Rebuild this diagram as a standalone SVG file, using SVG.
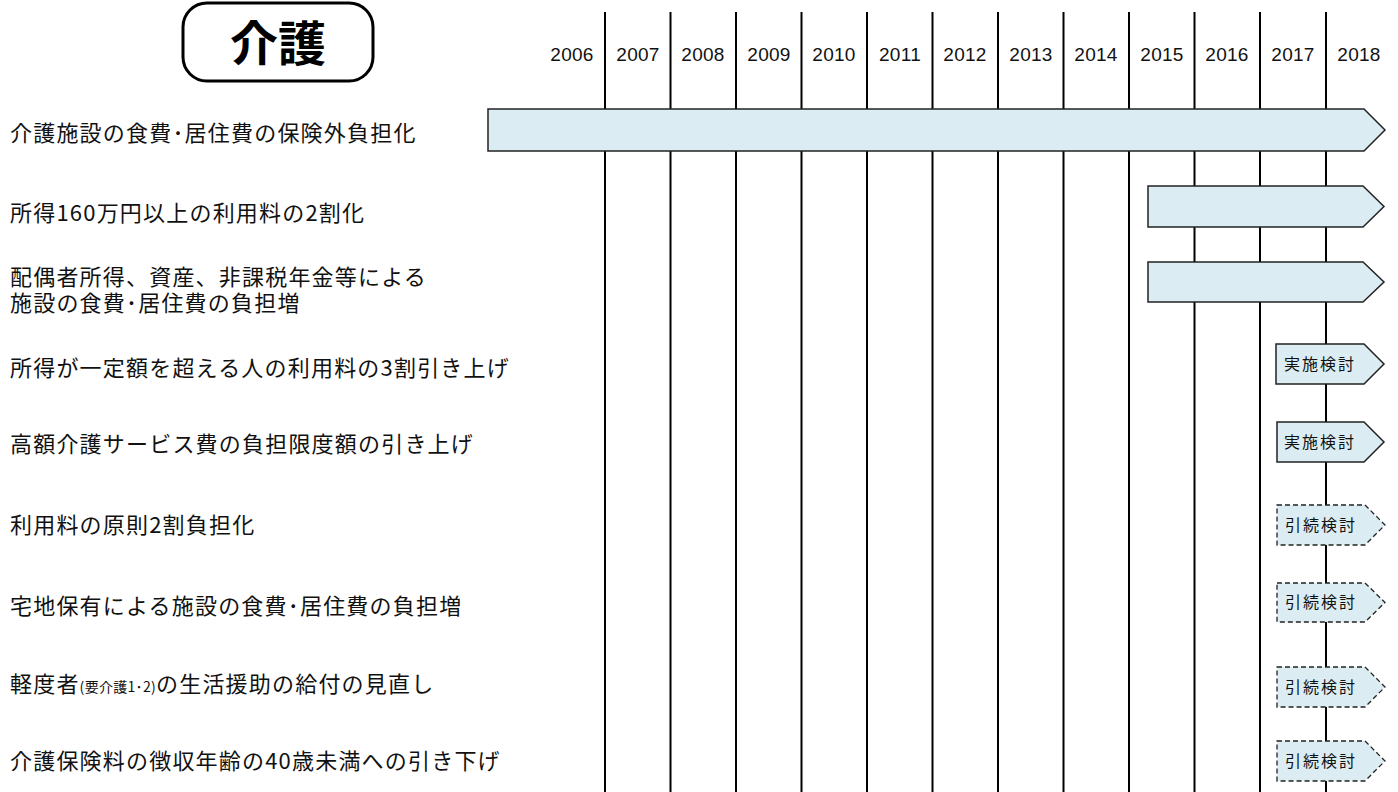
<svg xmlns="http://www.w3.org/2000/svg" width="1398" height="792" viewBox="0 0 1398 792">
<style>
.yr{font-family:"Liberation Sans","Noto Sans",sans-serif;font-size:19px;fill:#111;text-anchor:middle;letter-spacing:0.3px}
.lbl{font-family:"Noto Sans CJK JP","Noto Sans",sans-serif;font-size:22px;fill:#111;letter-spacing:1.2px}
.sm{font-size:14px;letter-spacing:0.3px}
.bx{font-family:"Noto Sans CJK JP",sans-serif;font-size:16px;fill:#111;letter-spacing:2px}
.bar{fill:#dbedf3;stroke:#222;stroke-width:1.5}
.dash{fill:#dbedf3;stroke:#222;stroke-width:1.3;stroke-dasharray:5 3}
.vl{stroke:#000;stroke-width:2}
</style>
<rect width="1398" height="792" fill="#fff"/>
<g id="title">
<rect x="183" y="3" width="190" height="78" rx="24" fill="#fff" stroke="#000" stroke-width="3"/>
<text x="278" y="61" font-family="Noto Sans CJK JP,sans-serif" font-size="48" font-weight="bold" text-anchor="middle" fill="#000">介護</text>
</g>
<g id="connectors">
<line class="vl" x1="605" y1="12" x2="605" y2="792"/>
<line class="vl" x1="670.5" y1="12" x2="670.5" y2="792"/>
<line class="vl" x1="736" y1="12" x2="736" y2="792"/>
<line class="vl" x1="801.5" y1="12" x2="801.5" y2="792"/>
<line class="vl" x1="867" y1="12" x2="867" y2="792"/>
<line class="vl" x1="932.5" y1="12" x2="932.5" y2="792"/>
<line class="vl" x1="998" y1="12" x2="998" y2="792"/>
<line class="vl" x1="1063.5" y1="12" x2="1063.5" y2="792"/>
<line class="vl" x1="1129" y1="12" x2="1129" y2="792"/>
<line class="vl" x1="1194.5" y1="12" x2="1194.5" y2="792"/>
<line class="vl" x1="1260" y1="12" x2="1260" y2="792"/>
<line class="vl" x1="1326" y1="12" x2="1326" y2="792"/>
</g>
<g id="years">
<text class="yr" x="572" y="61">2006</text>
<text class="yr" x="638" y="61">2007</text>
<text class="yr" x="703" y="61">2008</text>
<text class="yr" x="769" y="61">2009</text>
<text class="yr" x="834" y="61">2010</text>
<text class="yr" x="900" y="61">2011</text>
<text class="yr" x="965" y="61">2012</text>
<text class="yr" x="1031" y="61">2013</text>
<text class="yr" x="1096" y="61">2014</text>
<text class="yr" x="1162" y="61">2015</text>
<text class="yr" x="1227" y="61">2016</text>
<text class="yr" x="1293" y="61">2017</text>
<text class="yr" x="1359" y="61">2018</text>
</g>
<g id="labels">
<text class="lbl" x="10" y="141">介護施設の食費･居住費の保険外負担化</text>
<text class="lbl" x="10" y="221">所得160万円以上の利用料の2割化</text>
<text class="lbl"><tspan x="10" y="285">配偶者所得、資産、非課税年金等による</tspan><tspan x="10" y="311">施設の食費･居住費の負担増</tspan></text>
<text class="lbl" x="10" y="376">所得が一定額を超える人の利用料の3割引き上げ</text>
<text class="lbl" x="10" y="452">高額介護サービス費の負担限度額の引き上げ</text>
<text class="lbl" x="10" y="533">利用料の原則2割負担化</text>
<text class="lbl" x="10" y="614">宅地保有による施設の食費･居住費の負担増</text>
<text class="lbl" x="10" y="692">軽度者<tspan class="sm">(要介護1･2)</tspan>の生活援助の給付の見直し</text>
<text class="lbl" x="10" y="769">介護保険料の徴収年齢の40歳未満への引き下げ</text>
</g>
<g id="bar1"><polygon class="bar" points="488,109 1364,109 1385,130 1364,151 488,151"/></g>
<g id="bar2"><polygon class="bar" points="1148,186 1363,186 1384,206.5 1363,227 1148,227"/></g>
<g id="bar3"><polygon class="bar" points="1148,262 1363,262 1384,282 1363,302 1148,302"/></g>
<g id="box4"><polygon class="bar" points="1276,344 1364,344 1384,364 1364,384 1276,384"/><text class="bx" x="1284" y="370">実施検討</text></g>
<g id="box5"><polygon class="bar" points="1277,422 1364,422 1384,442 1364,462 1277,462"/><text class="bx" x="1284" y="448">実施検討</text></g>
<g id="box6"><polygon class="dash" points="1277,505 1365,505 1385,525 1365,545 1277,545"/><text class="bx" x="1285" y="531">引続検討</text></g>
<g id="box7"><polygon class="dash" points="1277,583 1365,583 1385,602.5 1365,622 1277,622"/><text class="bx" x="1285" y="608">引続検討</text></g>
<g id="box8"><polygon class="dash" points="1277,667 1365,667 1385,687 1365,707 1277,707"/><text class="bx" x="1285" y="693">引続検討</text></g>
<g id="box9"><polygon class="dash" points="1277,741 1365,741 1385,761 1365,781 1277,781"/><text class="bx" x="1285" y="767">引続検討</text></g>
</svg>
